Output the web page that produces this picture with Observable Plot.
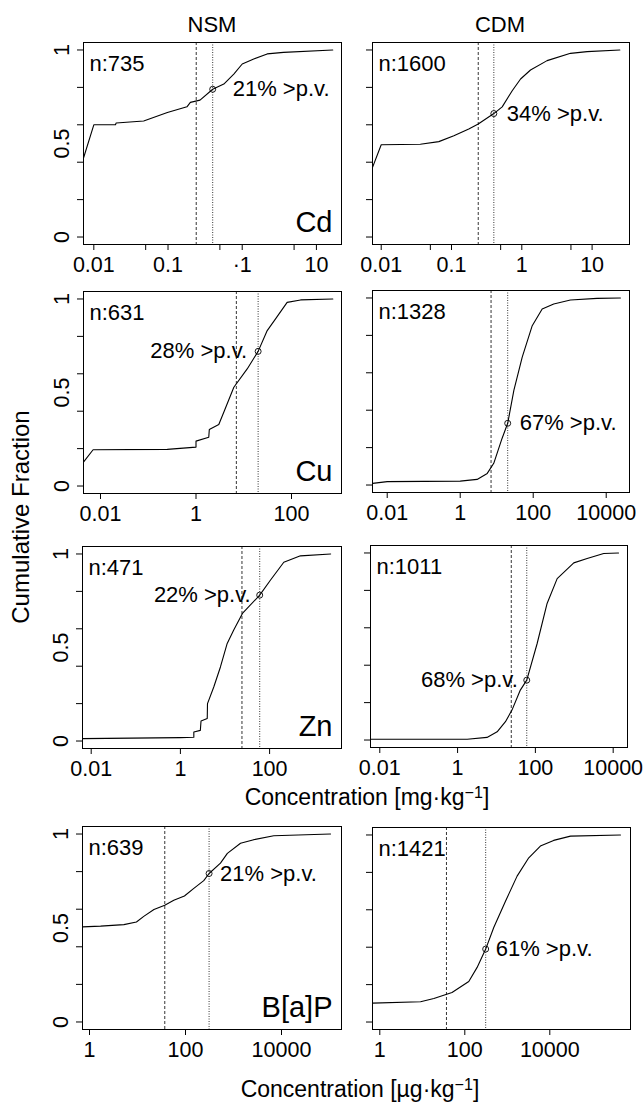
<!DOCTYPE html>
<html><head><meta charset="utf-8">
<script src="https://cdn.jsdelivr.net/npm/d3@7"></script>
<script src="https://cdn.jsdelivr.net/npm/@observablehq/plot@0.6"></script>
<style>
body{margin:0;background:#fff;}
#fig{position:relative;width:644px;height:1102px;background:#fff;font-family:"Liberation Sans",Arial,Helvetica,sans-serif;color:#000;overflow:hidden}
.lab{position:absolute;white-space:nowrap;line-height:1;transform:translate(-50%,-50%)}
.sup{position:relative;top:-0.45em;font-size:0.7em}
.panel{position:absolute;overflow:visible}
</style></head><body><div id="fig"></div>
<script>
// ---- data ----
const columns = ["NSM", "CDM"];
const elements = ["Cd", "Cu", "Zn", "B[a]P"];
const sampleN = {Cd: [735, 1600], Cu: [631, 1328], Zn: [471, 1011], "B[a]P": [639, 1421]};
const pctAbove = {Cd: [21, 34], Cu: [28, 67], Zn: [22, 68], "B[a]P": [21, 61]};
const pvLines = {Cd: [0.24, 0.40], Cu: [7, 20], Zn: [24, 60], "B[a]P": [37, 310]};

const cdNsmX = [0.0073, 0.0100, 0.0196, 0.020, 0.047, 0.098, 0.18, 0.20, 0.27, 0.40, 0.565, 0.77, 1.0, 1.43, 2.17, 3.6, 16.6];
const cdNsmY = [0.425, 0.600, 0.600, 0.610, 0.620, 0.666, 0.696, 0.720, 0.732, 0.790, 0.818, 0.871, 0.925, 0.952, 0.979, 0.987, 1.0];
const cdCdmX = [0.0075, 0.0100, 0.036, 0.066, 0.108, 0.176, 0.24, 0.40, 0.526, 0.73, 0.96, 1.33, 2.29, 4.93, 8.5, 24.8];
const cdCdmY = [0.371, 0.493, 0.496, 0.510, 0.541, 0.577, 0.604, 0.660, 0.696, 0.782, 0.845, 0.893, 0.943, 0.982, 0.991, 1.0];
const cuNsmX = [0.0044, 0.0070, 0.25, 1.0, 1.0, 1.85, 1.9, 3.0, 3.95, 6.2, 11.8, 20, 31, 50, 81, 155, 733];
const cuNsmY = [0.128, 0.194, 0.196, 0.208, 0.240, 0.261, 0.302, 0.329, 0.404, 0.528, 0.626, 0.720, 0.831, 0.906, 0.982, 0.995, 1.0];
const cuCdmX = [0.004, 0.01, 1.0, 2.9, 5.5, 8.3, 14, 20, 29.5, 50, 94, 176, 365, 1045, 5600, 24500];
const cuCdmY = [0.009, 0.018, 0.021, 0.030, 0.062, 0.116, 0.249, 0.330, 0.506, 0.684, 0.852, 0.941, 0.968, 0.989, 0.998, 1.0];
const znNsmX = [0.0064, 1.0, 2.0, 2.0, 2.8, 2.9, 4.0, 4.05, 5.6, 7.9, 11.2, 15.7, 24.6, 60, 105, 208, 492, 2340];
const znNsmY = [0.013, 0.018, 0.020, 0.048, 0.057, 0.107, 0.120, 0.200, 0.289, 0.396, 0.522, 0.593, 0.682, 0.780, 0.861, 0.956, 0.990, 1.0];
const znCdmX = [0.0058, 1.77, 5.7, 10.4, 17, 25, 41, 60, 111, 200, 363, 970, 2140, 5700, 13700];
const znCdmY = [0.004, 0.004, 0.014, 0.044, 0.098, 0.160, 0.267, 0.320, 0.516, 0.730, 0.863, 0.947, 0.970, 0.997, 1.0];
const bapNsmX = [0.71, 1.7, 5.2, 9.5, 13.5, 22, 37, 57, 95, 149, 240, 310, 535, 745, 1400, 2640, 6900, 105000];
const bapNsmY = [0.506, 0.510, 0.518, 0.532, 0.562, 0.598, 0.621, 0.648, 0.670, 0.711, 0.752, 0.790, 0.845, 0.897, 0.951, 0.970, 0.991, 1.0];
const bapCdmX = [0.67, 9.1, 18.7, 50, 124, 195, 310, 480, 906, 1700, 3200, 6000, 12300, 30700, 460000];
const bapCdmY = [0.101, 0.108, 0.126, 0.158, 0.217, 0.292, 0.390, 0.505, 0.646, 0.780, 0.878, 0.941, 0.971, 0.994, 1.0];

const cdTicks = [0.01, 0.05, 0.1, 0.5, 1, 5, 10];
const cdTickLabelsNsm = ["0.01", "", "0.1", "", "\u00b71", "", "10"];
const cdTickLabelsCdm = ["0.01", "", "0.1", "", "1", "", "10"];
const wideTicks = [0.01, 1, 100, 10000];
const wideTickLabels = ["0.01", "1", "100", "10000"];
const bapTicks = [1, 100, 10000];
const bapTickLabels = ["1", "100", "10000"];
const yTicks = [0, 0.2, 0.4, 0.6, 0.8, 1];
const yLabelVals = [0, 0.5, 1];
const yLabelText = ["0", "0.5", "1"];

// ---- layout (pixel boxes and log10 extents of each panel frame) ----
const FONT = '"Liberation Sans", Arial, Helvetica, sans-serif';
const panels = [
  {el:"Cd", col:0, xs:cdNsmX, ys:cdNsmY, ticks:cdTicks, labels:cdTickLabelsNsm, box:[83,42,341,244], lo:-2.139, hi:1.338, labDx:20},
  {el:"Cd", col:1, xs:cdCdmX, ys:cdCdmY, ticks:cdTicks, labels:cdTickLabelsCdm, box:[372,42,629,244], lo:-2.124, hi:1.532, labDx:13},
  {el:"Cu", col:0, xs:cuNsmX, ys:cuNsmY, ticks:wideTicks, labels:wideTickLabels, box:[83,291,341,493], lo:-2.356, hi:3.047, labDx:-11},
  {el:"Cu", col:1, xs:cuCdmX, ys:cuCdmY, ticks:wideTicks, labels:wideTickLabels, box:[372,290,629,492], lo:-2.403, hi:4.638, labDx:12},
  {el:"Zn", col:0, xs:znNsmX, ys:znNsmY, ticks:wideTicks, labels:wideTickLabels, box:[82,546,341,748], lo:-2.195, hi:3.612, labDx:-9},
  {el:"Zn", col:1, xs:znCdmX, ys:znCdmY, ticks:wideTicks, labels:wideTickLabels, box:[370,545,627,747], lo:-2.239, hi:4.368, labDx:-9},
  {el:"B[a]P", col:0, xs:bapNsmX, ys:bapNsmY, ticks:bapTicks, labels:bapTickLabels, box:[82,826,341,1029], lo:-0.146, hi:5.25, labDx:11},
  {el:"B[a]P", col:1, xs:bapCdmX, ys:bapCdmY, ticks:bapTicks, labels:bapTickLabels, box:[372,827,630,1029], lo:-0.172, hi:5.899, labDx:10}
];

const fig = document.getElementById("fig");

function drawPanel(p) {
  const [x0, y0, x1, y1] = p.box;
  const mL = 50, mR = 20, mT = 20, mB = 50;
  const curve = p.xs.map((x, i) => ({x, y: p.ys[i]}));
  const fmt = new Map(p.ticks.map((t, i) => [t, p.labels[i]]));
  const pv = pvLines[p.el];
  const pct = pctAbove[p.el][p.col];
  const pt = [{x: pv[1], y: 1 - pct / 100, label: `${pct}% >p.v.`}];
  const inDomain = p.ticks.filter(t => Math.log10(t) >= p.lo - 1e-9 && Math.log10(t) <= p.hi + 1e-9);
  const marks = [
    Plot.ruleX([pv[0]], {stroke: "#000", strokeWidth: 0.8, strokeDasharray: "3,2"}),
    Plot.ruleX([pv[1]], {stroke: "#000", strokeWidth: 0.8, strokeDasharray: "1,1.5"}),
    Plot.line(curve, {x: "x", y: "y", stroke: "#000", strokeWidth: 1.1, clip: true}),
    Plot.dot(pt, {x: "x", y: "y", r: 3, stroke: "#000", fill: "none", strokeWidth: 0.9}),
    Plot.text(pt, {x: "x", y: "y", text: "label", dx: p.labDx, textAnchor: p.labDx < 0 ? "end" : "start", lineAnchor: "middle", fontSize: 22}),
    Plot.text([`n:${sampleN[p.el][p.col]}`], {text: d => d, frameAnchor: "top-left", dx: 6, dy: 21, textAnchor: "start", lineAnchor: "middle", fontSize: 22}),
    Plot.axisX({ticks: inDomain, tickSize: 6, tickPadding: 6, tickFormat: d => fmt.get(d) ?? "", label: null, fontSize: 21.5}),
    Plot.axisY({ticks: yTicks, tickSize: 6, tickFormat: () => "", label: null}),
    Plot.frame({stroke: "#000", strokeWidth: 1})
  ];
  if (p.col === 0) {
    marks.push(Plot.text([p.el], {text: d => d, frameAnchor: "bottom-right", dx: -9, dy: -22, textAnchor: "end", lineAnchor: "middle", fontSize: 29}));
    marks.push(Plot.text(yLabelVals, {y: d => d, text: (d, i) => yLabelText[i], frameAnchor: "left", dx: -21, rotate: -90, textAnchor: "middle", lineAnchor: "middle", fontSize: 21.5}));
  }
  const svg = Plot.plot({
    width: (x1 - x0) + mL + mR,
    height: (y1 - y0) + mT + mB,
    marginLeft: mL, marginRight: mR, marginTop: mT, marginBottom: mB,
    style: {background: "transparent", fontFamily: FONT, fontSize: "21px", color: "#000", overflow: "visible"},
    x: {type: "log", domain: [10 ** p.lo, 10 ** p.hi]},
    y: {domain: [-0.04, 1.04]},
    marks
  });
  svg.classList.add("panel");
  svg.style.left = (x0 - mL) + "px";
  svg.style.top = (y0 - mT) + "px";
  fig.appendChild(svg);
}
panels.forEach(drawPanel);

function addLabel(html, x, y, size, rotate) {
  const d = document.createElement("div");
  d.className = "lab";
  d.innerHTML = html;
  d.style.left = x + "px";
  d.style.top = y + "px";
  d.style.fontSize = size + "px";
  if (rotate) d.style.transform = "translate(-50%,-50%) rotate(-90deg)";
  fig.appendChild(d);
}
addLabel(columns[0], 212, 25, 22);
addLabel(columns[1], 500, 25, 22);
addLabel("Cumulative Fraction", 21, 517, 24, true);
addLabel('Concentration [mg\u00b7kg<span class="sup">\u22121</span>]', 367, 797, 23);
addLabel('Concentration [\u00b5g\u00b7kg<span class="sup">\u22121</span>]', 360, 1089, 23);
</script></body></html>
